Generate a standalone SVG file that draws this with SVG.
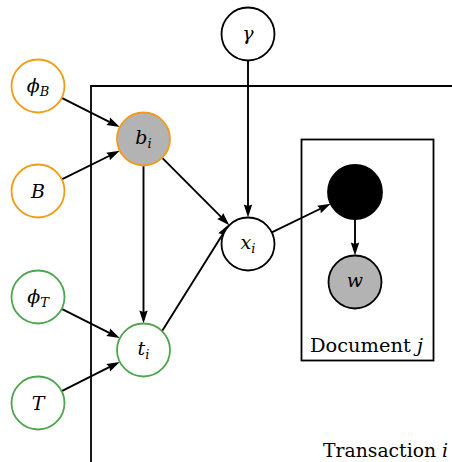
<svg xmlns="http://www.w3.org/2000/svg" width="452" height="462" viewBox="0 0 452 462">
<style>
.node{stroke-width:1.8}
.plain{fill:#fff;stroke:#000}
.obs{fill:#b3b3b3;stroke:#000}
.orange{stroke:#f39a16}
.green{stroke:#4da64d}
.lbl{font-family:'DejaVu Serif',serif;font-style:italic;font-size:19px;text-anchor:middle;fill:#000}
.sub{font-size:13px}
.plate{fill:none;stroke:#000;stroke-width:1.8}
.ptxt{font-family:'DejaVu Serif',serif;font-size:19px;fill:#000}
.edge{stroke:#000;stroke-width:1.9;fill:none;marker-end:url(#arr)}
</style>
<defs>
<marker id="arr" markerUnits="userSpaceOnUse" markerWidth="24" markerHeight="24" viewBox="-12 -12 24 24" refX="0" refY="0" orient="auto">
<path d="M4,0 L-9,-4.2 L-7.5,0 L-9,4.2 Z" fill="#000"/>
</marker>
</defs>
<g id="plates">
<path class="plate" d="M91,462 L91,86 L452,86"/>
<text class="ptxt" x="323" y="457" textLength="125" lengthAdjust="spacingAndGlyphs">Transaction <tspan font-style="italic">i</tspan></text>
<rect class="plate" x="301.5" y="139.5" width="132" height="221"/>
<text class="ptxt" x="310" y="352" textLength="113" lengthAdjust="spacingAndGlyphs">Document <tspan font-style="italic">j</tspan></text>
</g>
<g id="connectors">
<line class="edge" x1="61.7" y1="97.9" x2="116.2" y2="125.3"/>
<line class="edge" x1="61.8" y1="179.3" x2="116.1" y2="152.5"/>
<line class="edge" x1="143.5" y1="165.5" x2="143.5" y2="319.5"/>
<line class="edge" x1="162.2" y1="157.8" x2="226.5" y2="222.4"/>
<line class="edge" x1="248" y1="60.5" x2="248" y2="213.5"/>
<line class="edge" x1="162.1" y1="331.1" x2="226.6" y2="227.9"/>
<line class="edge" x1="271.8" y1="232.4" x2="327.1" y2="205.5"/>
<line class="edge" x1="355" y1="219" x2="355" y2="251.5"/>
<line class="edge" x1="61.7" y1="308.9" x2="116.2" y2="336.3"/>
<line class="edge" x1="61.7" y1="391.1" x2="116.2" y2="363.7"/>
</g>
<g id="gamma"><circle class="node plain" cx="248" cy="34" r="26.5"/><text class="lbl" x="248" y="40">γ</text></g>
<g id="phiB"><circle class="node plain orange" cx="38" cy="86" r="26.5"/><text class="lbl" x="38" y="92">ϕ<tspan class="sub" dy="4">B</tspan></text></g>
<g id="B"><circle class="node plain orange" cx="38" cy="191" r="26.5"/><text class="lbl" x="38" y="198">B</text></g>
<g id="bi"><circle class="node obs orange" cx="143.5" cy="139" r="26.5"/><text class="lbl" x="143.5" y="144">b<tspan class="sub" dy="4">i</tspan></text></g>
<g id="xi"><circle class="node plain" cx="248" cy="244" r="26.5"/><text class="lbl" x="248" y="249">x<tspan class="sub" dy="4">i</tspan></text></g>
<g id="phiT"><circle class="node plain green" cx="38" cy="297" r="26.5"/><text class="lbl" x="38" y="303">ϕ<tspan class="sub" dy="4">T</tspan></text></g>
<g id="ti"><circle class="node plain green" cx="143.5" cy="350" r="26.5"/><text class="lbl" x="143.5" y="355">t<tspan class="sub" dy="4">i</tspan></text></g>
<g id="T"><circle class="node plain green" cx="38" cy="403" r="26.5"/><text class="lbl" x="38" y="410">T</text></g>
<g id="hidden"><circle class="node" cx="355" cy="192" r="27" fill="#000" stroke="#000"/></g>
<g id="w"><circle class="node obs" cx="355" cy="282" r="26.5"/><text class="lbl" x="355" y="287">w</text></g>
</svg>
